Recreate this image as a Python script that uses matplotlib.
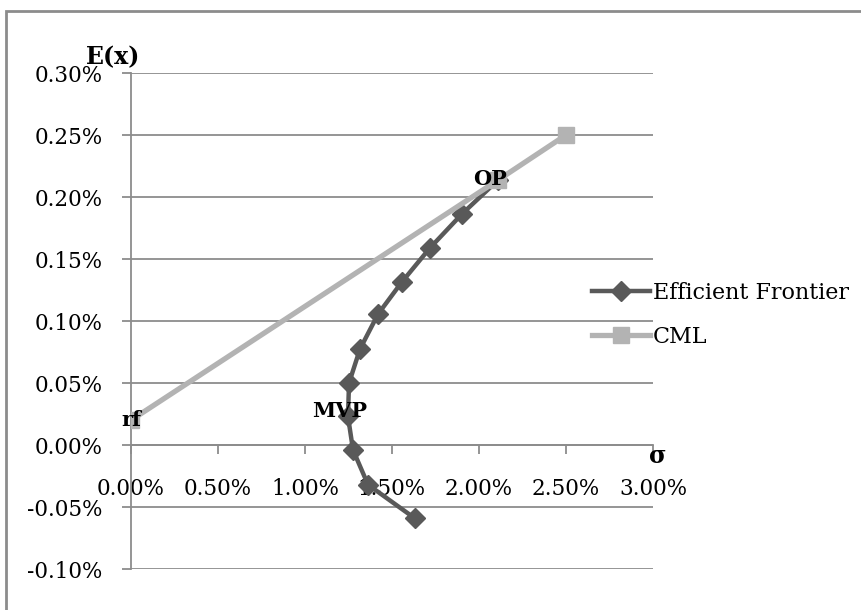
import matplotlib
matplotlib.use("Agg")
import matplotlib.pyplot as plt
from matplotlib.ticker import FuncFormatter
from matplotlib.patches import Rectangle

# Data (percent units)
ef_sigma = [2.11, 1.902, 1.718, 1.557, 1.420, 1.316, 1.253, 1.247, 1.276, 1.362, 1.63]
ef_return = [0.2137, 0.1863, 0.1589, 0.1315, 0.1056, 0.0774, 0.050, 0.023, -0.004, -0.032, -0.059]
cml_sigma = [0.0, 2.11, 2.5]
cml_return = [0.020, 0.2137, 0.25]
x_ticks = [0.0, 0.5, 1.0, 1.5, 2.0, 2.5, 3.0]
y_ticks = [-0.10, -0.05, 0.0, 0.05, 0.10, 0.15, 0.20, 0.25, 0.30]

FONT = "DejaVu Serif"
plt.rcParams["font.family"] = [FONT]

fig = plt.figure(figsize=(8.62, 6.10), dpi=100)
ax = fig.add_axes([131/862, 1-569/610, (653-131)/862, (569-73)/610])

grid_c = "#8c8c8c"
ax.set_xlim(0, 3.0)
ax.set_ylim(-0.10, 0.30)
ax.set_xticks(x_ticks)
ax.set_yticks(y_ticks)
ax.xaxis.set_major_formatter(FuncFormatter(lambda v, p: f"{v:.2f}%"))
ax.yaxis.set_major_formatter(FuncFormatter(lambda v, p: f"{v:.2f}%"))
ax.grid(axis="y", color=grid_c, linewidth=1.3)
ax.set_axisbelow(True)
for s in ["top", "right"]:
    ax.spines[s].set_visible(False)
ax.spines["bottom"].set_position(("data", 0))
ax.spines["bottom"].set_color(grid_c)
ax.spines["left"].set_color(grid_c)
ax.spines["bottom"].set_linewidth(1.3)
ax.spines["left"].set_linewidth(1.3)
ax.tick_params(axis="both", colors=grid_c, length=6.5, width=1.3, labelcolor="black", labelsize=15.5)
ax.tick_params(axis="y", pad=14)
ax.tick_params(axis="x", pad=17)

ax.plot(ef_sigma, ef_return, color="#595959", linewidth=3.2, marker="D", markersize=10,
        label="Efficient Frontier", zorder=3)
ax.plot(cml_sigma, cml_return, color="#b3b3b3", linewidth=3.8, marker="s", markersize=12,
        label="CML", zorder=4)

lbl = dict(fontsize=15, fontweight="bold", color="black", zorder=6)
ax.text(0.0, cml_return[0], "rf", ha="center", va="center", **lbl)
ax.text(1.20, 0.0274, "MVP", ha="center", va="center", **lbl)
ax.text(cml_sigma[1] - 0.045, cml_return[1] + 0.001, "OP", ha="center", va="center", **lbl)
ax.text(-0.103, 0.313, "E(x)", ha="center", va="center", fontsize=17, fontweight="bold",
        clip_on=False)
ax.text(3.03, -0.0089, "σ", ha="center", va="center", fontsize=17, fontweight="bold",
        clip_on=False)

leg = fig.legend(loc="center left", bbox_to_anchor=(592/862, 1-315/610), frameon=False,
                 fontsize=16, handlelength=2.6, handletextpad=0.15, labelspacing=1.0,
                 borderaxespad=0, borderpad=0)

# chart area border (top and left visible)
fig.patches.append(Rectangle((6/862, -0.1), 1.2, 1-11/610+0.1, transform=fig.transFigure,
                             fill=False, edgecolor="#8c8c8c", linewidth=2))

fig.savefig("out.png", dpi=100)
